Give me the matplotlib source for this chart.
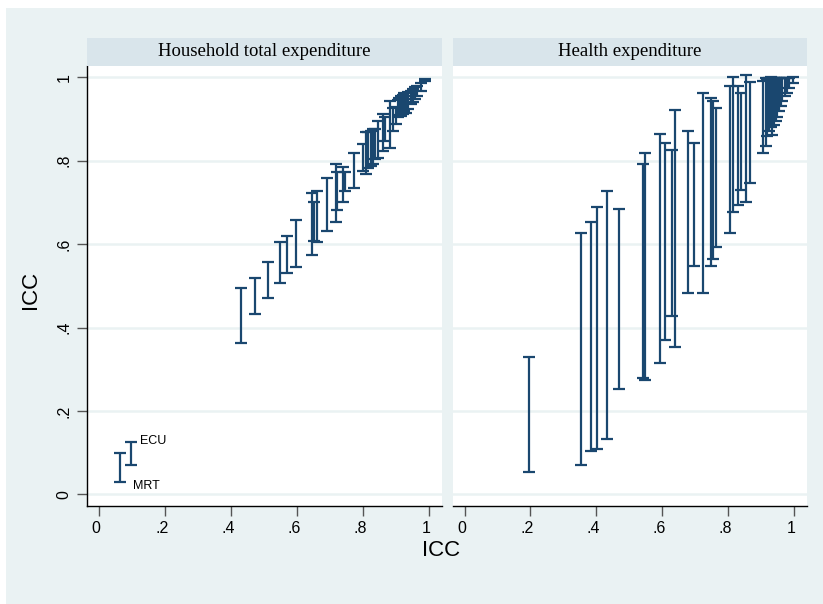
import matplotlib
matplotlib.use("Agg")
import matplotlib.pyplot as plt
from matplotlib.patches import Rectangle
from matplotlib.transforms import ScaledTranslation, blended_transform_factory

# ICC point estimates with lower / upper confidence bounds
hh_x  = [0.063, 0.096, 0.429, 0.472, 0.512, 0.548, 0.570, 0.597, 0.645, 0.652,
         0.660, 0.690, 0.717, 0.722, 0.738, 0.745, 0.773, 0.801, 0.809, 0.816,
         0.823, 0.831, 0.836, 0.846, 0.862, 0.867, 0.882, 0.892, 0.900, 0.905,
         0.910, 0.915, 0.920, 0.925, 0.930, 0.935, 0.945, 0.950, 0.957, 0.965,
         0.975, 0.988]
hh_lo = [0.030, 0.070, 0.364, 0.432, 0.472, 0.507, 0.530, 0.546, 0.575, 0.607,
         0.604, 0.632, 0.654, 0.682, 0.700, 0.728, 0.734, 0.775, 0.767, 0.783,
         0.787, 0.791, 0.803, 0.807, 0.823, 0.847, 0.831, 0.871, 0.887, 0.905,
         0.910, 0.907, 0.912, 0.918, 0.915, 0.923, 0.935, 0.940, 0.948, 0.955,
         0.966, 0.992]
hh_hi = [0.100, 0.126, 0.495, 0.518, 0.558, 0.604, 0.620, 0.659, 0.723, 0.701,
         0.728, 0.758, 0.791, 0.774, 0.785, 0.774, 0.819, 0.841, 0.869, 0.869,
         0.871, 0.875, 0.875, 0.895, 0.911, 0.905, 0.943, 0.927, 0.929, 0.945,
         0.950, 0.955, 0.958, 0.962, 0.955, 0.964, 0.968, 0.972, 0.976, 0.980,
         0.985, 0.996]
hh_names = ["MRT", "ECU"]

he_x  = [0.197, 0.354, 0.383, 0.403, 0.433, 0.469, 0.542, 0.548, 0.593, 0.610,
         0.630, 0.640, 0.679, 0.696, 0.723, 0.748, 0.755, 0.764, 0.807, 0.814,
         0.832, 0.840, 0.855, 0.868, 0.908, 0.915, 0.920, 0.925, 0.930, 0.935,
         0.940, 0.945, 0.950, 0.955, 0.960, 0.965, 0.972, 0.980, 0.987, 0.997]
he_lo = [0.053, 0.070, 0.104, 0.110, 0.132, 0.252, 0.280, 0.274, 0.314, 0.371,
         0.428, 0.353, 0.484, 0.547, 0.484, 0.547, 0.564, 0.592, 0.627, 0.677,
         0.694, 0.729, 0.700, 0.746, 0.819, 0.835, 0.858, 0.870, 0.880, 0.862,
         0.885, 0.895, 0.905, 0.918, 0.930, 0.942, 0.955, 0.962, 0.975, 0.985]
he_hi = [0.330, 0.626, 0.653, 0.689, 0.728, 0.683, 0.791, 0.818, 0.865, 0.842,
         0.826, 0.921, 0.870, 0.842, 0.962, 0.950, 0.943, 0.927, 0.978, 1.000,
         0.978, 0.963, 1.006, 0.989, 0.992, 0.998, 0.996, 0.998, 1.000, 0.998,
         0.998, 0.999, 0.997, 0.999, 0.998, 0.999, 0.999, 0.998, 0.999, 1.000]

panel_titles = ["Household total expenditure", "Health expenditure"]
tick_vals = [0, 0.2, 0.4, 0.6, 0.8, 1]
tick_labels = ["0", ".2", ".4", ".6", ".8", "1"]

NAVY = "#1A476F"
REGION = "#EAF2F3"
STRIP = "#D9E5EB"
GRID = "#EAF2F3"

W, H = 823, 604
fig = plt.figure(figsize=(W / 100, H / 100), dpi=100)
fig.patch.set_facecolor("white")
fig.add_artist(Rectangle((6 / W, 0), 1 - 6 / W, 1 - 8 / H,
                         transform=fig.transFigure, facecolor=REGION,
                         edgecolor="none", zorder=-10))

def fx(px):
    return px / W

def fy(py):
    return 1 - py / H

plot_top, plot_bot = 66, 506
strip_top = 38
panels = [(87, 442), (452.7, 806.7)]
xlim = (-12 / 330, 1 + 13 / 330)
ylim = (-11.5 / 417, 1 + 11.2 / 417)

data = [(hh_x, hh_lo, hh_hi), (he_x, he_lo, he_hi)]
axes = []
for i, ((l, r), (xs, lo, hi)) in enumerate(zip(panels, data)):
    ax = fig.add_axes([fx(l), fy(plot_bot), fx(r) - fx(l), fy(plot_top) - fy(plot_bot)])
    ax.set_facecolor("white")
    ax.set_xlim(*xlim)
    ax.set_ylim(*ylim)
    for t in tick_vals:
        ax.axhline(t, color=GRID, lw=1.8, zorder=0)
    mid = [(a + b) / 2 for a, b in zip(lo, hi)]
    half = [(b - a) / 2 for a, b in zip(lo, hi)]
    ax.errorbar(xs, mid, yerr=half, fmt="none", ecolor=NAVY,
                elinewidth=1.6, capsize=4.2, capthick=1.6, zorder=3)
    for s in ["top", "right"]:
        ax.spines[s].set_visible(False)
    ax.spines["bottom"].set_color("black")
    ax.spines["bottom"].set_linewidth(1.0)
    ax.set_xticks(tick_vals)
    ax.set_xticklabels([])
    ax.tick_params(axis="x", length=7, width=1, color="#555555")
    # x tick labels sit slightly left of their tick marks
    xlab_tr = blended_transform_factory(ax.transData, ax.transAxes) + \
        ScaledTranslation(-3 / 100, -15 / 100, fig.dpi_scale_trans)
    for v, s in zip(tick_vals, tick_labels):
        ax.text(v, 0, s, transform=xlab_tr, ha="center", va="top",
                fontsize=11.5, family="Liberation Sans", clip_on=False)
    if i == 0:
        ax.spines["left"].set_color("black")
        ax.spines["left"].set_linewidth(1.0)
        ax.set_yticks(tick_vals)
        ax.set_yticklabels(tick_labels, fontsize=11.5, family="Liberation Sans",
                           rotation=90, va="center")
        ax.tick_params(axis="y", length=7, width=1, color="#555555", pad=4)
    else:
        ax.spines["left"].set_visible(False)
        ax.set_yticks([])
    # header strip
    sax = fig.add_axes([fx(l), fy(plot_top), fx(r) - fx(l), fy(strip_top) - fy(plot_top)])
    sax.set_facecolor(STRIP)
    sax.set_xticks([])
    sax.set_yticks([])
    for s in sax.spines.values():
        s.set_visible(False)
    sax.text(0.5, 0.5, panel_titles[i], ha="center", va="center",
             fontsize=13.5, family="Liberation Serif", transform=sax.transAxes)
    axes.append(ax)

# country labels for the two lowest estimates
ax0 = axes[0]
ax0.annotate(hh_names[1], (hh_x[1], hh_hi[1]), xytext=(6.5, 1), textcoords="offset points",
             fontsize=9, family="Liberation Sans", ha="left", va="center")
ax0.annotate(hh_names[0], (hh_x[0], hh_lo[0]), xytext=(9.5, -3), textcoords="offset points",
             fontsize=9, family="Liberation Sans", ha="left", va="center")

fig.text(fx(441), fy(551), "ICC", ha="center", va="center", fontsize=16,
         family="Liberation Sans")
fig.text(fx(31), fy(290), "ICC", ha="center", va="center", fontsize=16,
         family="Liberation Sans", rotation=90)

fig.savefig("out.png", dpi=100)
